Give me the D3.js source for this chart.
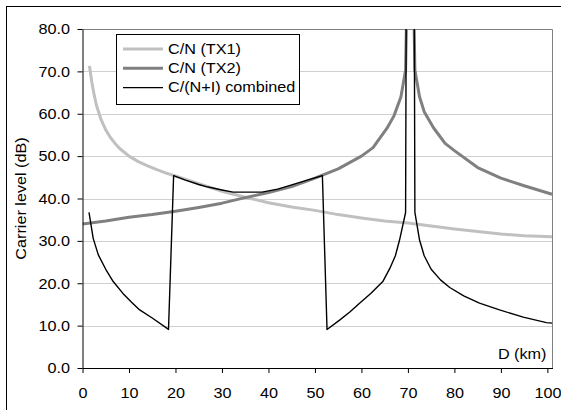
<!DOCTYPE html>
<html>
<head>
<meta charset="utf-8">
<script src="https://cdn.jsdelivr.net/npm/d3@7"></script>
<style>
  body { margin: 0; background: #fff; }
  text { font-family: "Liberation Sans", Arial, sans-serif; font-size: 15px; fill: #000; }
</style>
</head>
<body>
<div id="chart"></div>
<script>
// distances (km) and levels (dB)
var tx1Km = [1.5, 2, 2.5, 3, 4, 5, 6, 7, 8, 10, 12, 14, 16, 18, 20, 25, 30, 35, 40, 45, 50, 55, 60, 65, 70, 75, 80, 85, 90, 95, 101];
var tx1Db = [71.3, 67.5, 64.5, 62.0, 58.6, 56.2, 54.4, 53.0, 51.8, 50.0, 48.7, 47.7, 46.8, 46.0, 45.3, 43.5, 41.7, 40.3, 39.0, 38.0, 37.2, 36.2, 35.4, 34.7, 34.2, 33.5, 32.8, 32.2, 31.6, 31.2, 31.0];

var tx2Km = [0, 5, 10, 15, 20, 25, 30, 35, 40, 45, 50, 55, 60, 62.5, 64, 65.5, 67, 68.5, 69.5, 70.5, 71.5, 72.5, 73.5, 75.5, 78, 80, 85, 90, 95, 101];
var tx2Db = [34.0, 34.7, 35.6, 36.2, 37.0, 37.9, 38.9, 40.2, 41.4, 42.8, 44.8, 47.0, 50.0, 52.0, 54.3, 56.6, 59.5, 64.0, 70.3, 130, 70.3, 64.0, 60.5, 56.7, 53.0, 51.3, 47.3, 44.8, 43.0, 41.0];

var combKm = [1.4, 2.3, 3.4, 5, 6.6, 8.7, 10.5, 12.3, 15, 18.5, 19.6, 22, 25, 27, 30, 32.4, 38.6, 42, 45, 48, 51.6, 52.6, 55.3, 57.5, 59.6, 62, 64.6, 66.1, 67.3, 68.2, 69.5, 70.5, 71.5, 72.5, 73.5, 75, 77, 79, 82, 85.4, 89.7, 94.8, 99.8, 101];
var combDb = [36.7, 30.6, 26.7, 23.3, 20.4, 17.6, 15.6, 13.7, 11.8, 9.1, 45.4, 44.4, 43.3, 42.7, 42.0, 41.5, 41.5, 42.2, 43.2, 44.2, 45.4, 9.1, 11.3, 13.2, 15.3, 17.6, 20.4, 23.5, 26.5, 30.2, 36.7, 400, 36.7, 30.2, 26.5, 23.3, 20.8, 19.0, 17.0, 15.3, 13.7, 12.0, 10.7, 10.6];

var seriesNames = ["C/N (TX1)", "C/N (TX2)", "C/(N+I) combined"];
var xTicks = [0, 10, 20, 30, 40, 50, 60, 70, 80, 90, 100];
var yTicks = [0, 10, 20, 30, 40, 50, 60, 70, 80];

var series = [
  { name: seriesNames[0], km: tx1Km, db: tx1Db, color: "#c0c0c0", w: 3 },
  { name: seriesNames[1], km: tx2Km, db: tx2Db, color: "#808080", w: 3 },
  { name: seriesNames[2], km: combKm, db: combDb, color: "#000", w: 1.4 }
];

var width = 561, height = 410;
var stretch = "scale(1.08,1)";

var svg = d3.select("#chart").append("svg")
    .attr("width", width)
    .attr("height", height);

// outer chart frame (cut by the picture on right and bottom)
svg.append("rect")
    .attr("x", 6.5).attr("y", 6.5)
    .attr("width", 600).attr("height", 500)
    .attr("fill", "none").attr("stroke", "#000");

var x = d3.scaleLinear().domain([0, 101.1]).range([82.5, 552.5]);
var y = d3.scaleLinear().domain([0, 80]).range([368, 29]);

// gridlines
svg.append("g")
  .selectAll("line")
  .data(yTicks.slice(1, -1))
  .enter().append("line")
    .attr("x1", x(0)).attr("x2", x.range()[1])
    .attr("y1", function(d) { return Math.round(y(d)) + 0.5; })
    .attr("y2", function(d) { return Math.round(y(d)) + 0.5; })
    .attr("stroke", "#d0d0d0");

// top and right plot border
svg.append("path")
    .attr("d", "M" + x(0) + "," + (y(80) + 0.5) + "H" + x.range()[1] + "V" + y(0))
    .attr("fill", "none").attr("stroke", "#808080");

svg.append("clipPath").attr("id", "plot")
  .append("rect")
    .attr("x", x(0)).attr("y", y(80))
    .attr("width", x.range()[1] - x(0)).attr("height", y(0) - y(80));

var line = d3.line()
    .x(function(d) { return x(d[0]); })
    .y(function(d) { return y(d[1]); });

svg.append("g").attr("clip-path", "url(#plot)")
  .selectAll("path")
  .data(series)
  .enter().append("path")
    .attr("d", function(s) { return line(d3.zip(s.km, s.db)); })
    .attr("fill", "none")
    .attr("stroke", function(s) { return s.color; })
    .attr("stroke-width", function(s) { return s.w; })
    .attr("stroke-linejoin", "round");

// axes
var xAxis = svg.append("g")
    .attr("transform", "translate(0," + y(0) + ")")
    .call(d3.axisBottom(x).tickValues(xTicks).tickSize(5).tickSizeOuter(0));
xAxis.selectAll("text").attr("y", 19).attr("transform", stretch);

var yAxis = svg.append("g")
    .attr("transform", "translate(" + x(0) + ",0)")
    .call(d3.axisLeft(y).tickValues(yTicks).tickSize(5).tickSizeOuter(0).tickFormat(d3.format(".1f")));
yAxis.selectAll("text").attr("x", -11.5).attr("transform", stretch);

svg.selectAll(".domain").attr("stroke", "#000");
svg.selectAll(".tick line").attr("stroke", "#000");
svg.selectAll(".tick text").style("font-size", "15px")
    .style("font-family", "'Liberation Sans', Arial, sans-serif");

// axis titles
svg.append("text")
    .attr("transform", "translate(26," + ((y(0) + y(80)) / 2) + ") rotate(-90) " + stretch)
    .attr("text-anchor", "middle")
    .text("Carrier level (dB)");

svg.append("text")
    .attr("transform", "translate(546.5,359) " + stretch)
    .attr("text-anchor", "end")
    .text("D (km)");

// legend
var legend = svg.append("g").attr("transform", "translate(116,34)");
legend.append("rect")
    .attr("x", 0.5).attr("y", 0.5)
    .attr("width", 183).attr("height", 70)
    .attr("fill", "#fff").attr("stroke", "#000");

var item = legend.selectAll("g.item")
  .data(series)
  .enter().append("g")
    .attr("class", "item")
    .attr("transform", function(d, i) { return "translate(0," + (15 + i * 19.3) + ")"; });

item.append("line")
    .attr("x1", 7).attr("x2", 47)
    .attr("stroke", function(d) { return d.color; })
    .attr("stroke-width", function(d) { return d.w; });

item.append("text")
    .attr("transform", "translate(52,4.5) " + stretch)
    .text(function(d) { return d.name; });
</script>
</body>
</html>
